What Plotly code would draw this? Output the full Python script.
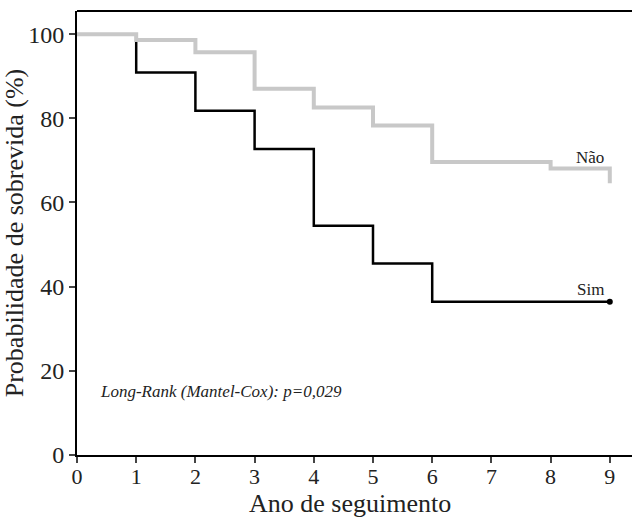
import plotly.graph_objects as go

# Kaplan-Meier step data (years, survival %)
nao_t = [0, 1, 2, 3, 4, 5, 6, 8, 9]
nao_s = [100, 98.6, 95.7, 87.0, 82.6, 78.3, 69.6, 68.1, 64.6]
sim_t = [0, 1, 2, 3, 4, 5, 6, 9]
sim_s = [100, 90.9, 81.8, 72.7, 54.5, 45.5, 36.4, 36.4]

x_ticks = [0, 1, 2, 3, 4, 5, 6, 7, 8, 9]
y_ticks = [0, 20, 40, 60, 80, 100]

FONT = "Liberation Serif"
TXT = "#222222"

fig = go.Figure()
fig.add_trace(go.Scatter(x=sim_t, y=sim_s, mode="lines", line=dict(shape="hv", color="#000000", width=2.5),
                         showlegend=False, hoverinfo="skip"))
fig.add_trace(go.Scatter(x=[sim_t[-1]], y=[sim_s[-1]], mode="markers", marker=dict(color="#000000", size=6),
                         showlegend=False, hoverinfo="skip"))
fig.add_trace(go.Scatter(x=nao_t, y=nao_s, mode="lines", line=dict(shape="hv", color="#c8c8c8", width=4),
                         showlegend=False, hoverinfo="skip"))

fig.add_annotation(x=8.93, y=70.8, text="Não", showarrow=False, xanchor="right", yanchor="middle",
                   font=dict(family=FONT, size=17, color=TXT))
fig.add_annotation(x=8.93, y=39.4, text="Sim", showarrow=False, xanchor="right", yanchor="middle",
                   font=dict(family=FONT, size=17, color=TXT))
fig.add_annotation(x=0.36, y=15.2, text="<i>Long-Rank (Mantel-Cox): p=0,029</i>", showarrow=False,
                   xanchor="left", yanchor="middle", font=dict(family=FONT, size=17, color=TXT))

# x-axis title placed as annotation at the bottom edge
fig.add_annotation(xref="paper", yref="paper", x=(350 - 77) / 555, y=-62 / 444, text="Ano de seguimento",
                   showarrow=False, xanchor="center", yanchor="bottom", borderpad=0, yshift=-2,
                   font=dict(family=FONT, size=26, color=TXT))

# top frame line
fig.add_shape(type="line", xref="paper", yref="paper", x0=0, x1=1, y0=1, y1=1,
              line=dict(color="#000", width=2))

fig.update_layout(
    width=632, height=517,
    margin=dict(l=77, r=0, t=11, b=62),
    plot_bgcolor="white", paper_bgcolor="white",
    font=dict(family=FONT, size=20, color=TXT),
    xaxis=dict(range=[0, 9.375], tickvals=x_ticks, ticks="outside", ticklen=6, tickwidth=2,
               showline=True, linecolor="#000", linewidth=2, showgrid=False, zeroline=False,
               automargin=False, ticklabelstandoff=-5,
               tickfont=dict(family=FONT, size=22, color=TXT)),
    yaxis=dict(range=[0, 105.5], tickvals=y_ticks, ticks="outside", ticklen=6, tickwidth=2,
               showline=True, linecolor="#000", linewidth=2, showgrid=False, zeroline=False,
               automargin=False,
               title=dict(text="Probabilidade de sobrevida (%)", font=dict(family=FONT, size=26, color=TXT)),
               tickfont=dict(family=FONT, size=24, color=TXT)),
)

fig.write_html("out.html", config={"displayModeBar": False},
               post_script="document.body.style.margin='0';document.body.style.overflow='hidden';")
